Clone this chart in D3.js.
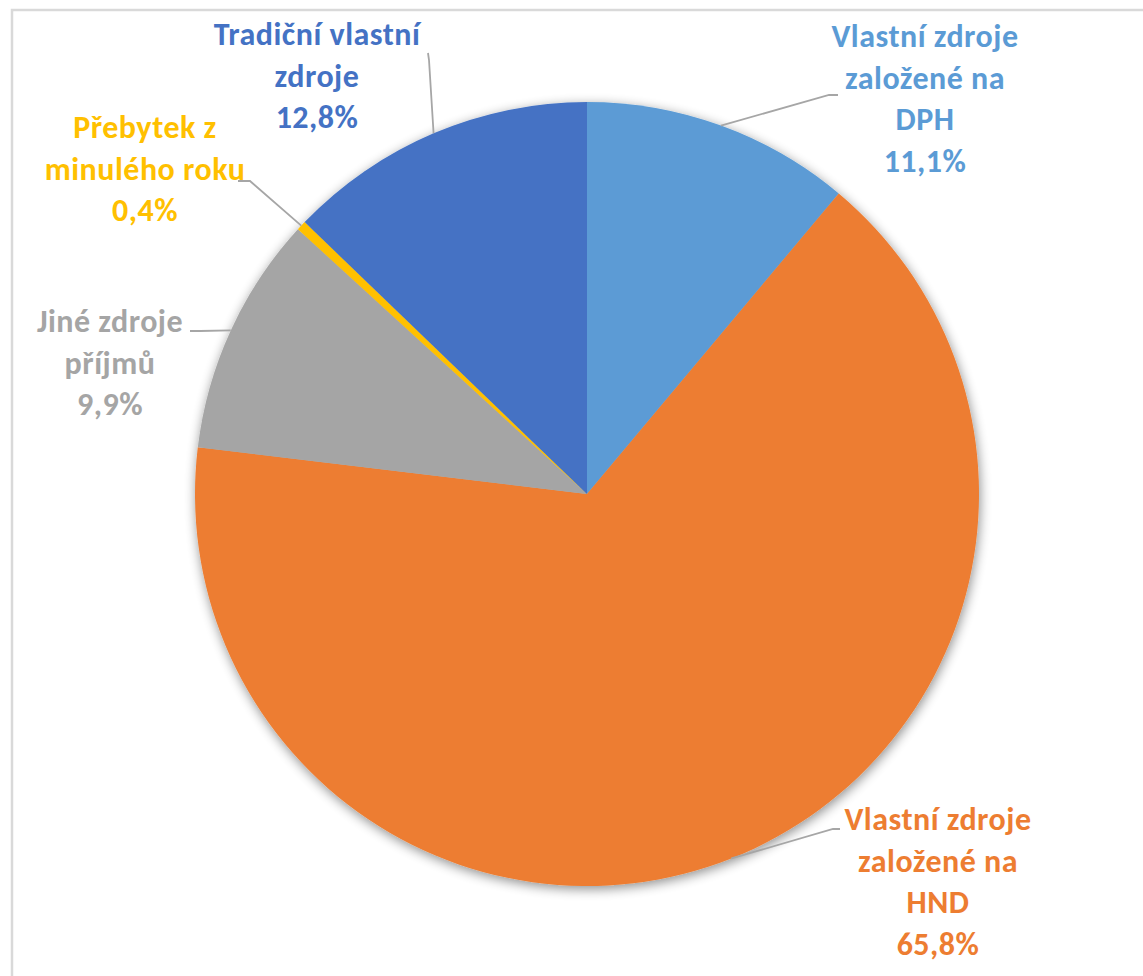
<!doctype html>
<html>
  <head>
    <meta charset="utf-8">
    <script src="https://cdn.jsdelivr.net/npm/d3@7"></script>
    <style>
      body { margin: 0; background: #fff; }
      text { font-family: Calibri, Carlito, Lato, sans-serif; font-weight: bold; }
    </style>
  </head>
  <body>
    <svg id="chart" width="1143" height="976"></svg>
    <script>
      // data
      var categories = ["Vlastní zdroje založené na DPH", "Vlastní zdroje založené na HND",
                        "Jiné zdroje příjmů", "Přebytek z minulého roku", "Tradiční vlastní zdroje"];
      var shares = [11.1, 65.8, 9.9, 0.4, 12.8];
      var colors = ["#5B9BD5", "#ED7D31", "#A5A5A5", "#FFC000", "#4472C4"];
      var labelLines = [
        ["Vlastní zdroje", "založené na", "DPH"],
        ["Vlastní zdroje", "založené na", "HND"],
        ["Jiné zdroje", "příjmů"],
        ["Přebytek z", "minulého roku"],
        ["Tradiční vlastní", "zdroje"]
      ];

      // label placement: centre x, first baseline y, leader line end points (elbow, end)
      var labelPos = [
        {x: 925, y: 47,  elbow: [829, 95],  end: [838, 95]},
        {x: 938, y: 830, elbow: [833, 829], end: [840, 829]},
        {x: 110, y: 332, elbow: [200, 331], end: [190, 331]},
        {x: 145, y: 138, elbow: [250, 181], end: [238, 181]},
        {x: 317, y: 45,  elbow: [429, 60],  end: [428, 53]}
      ];

      var svg = d3.select("#chart"),
        cx = 587, cy = 494, radius = 392, lineH = 41.5;

      var pct = d3.formatLocale({decimal: ",", thousands: " ", grouping: [3], currency: ["", ""]}).format(".1f");

      // frame
      svg.append("rect")
        .attr("x", 12).attr("y", 10)
        .attr("width", 1200).attr("height", 1000)
        .attr("fill", "none")
        .attr("stroke", "#d9d9d9")
        .attr("stroke-width", 2.5);

      // shadow
      var defs = svg.append("defs");
      var f = defs.append("filter").attr("id", "shadow")
        .attr("x", "-10%").attr("y", "-10%").attr("width", "120%").attr("height", "120%");
      f.append("feGaussianBlur").attr("in", "SourceAlpha").attr("stdDeviation", 6);
      f.append("feOffset").attr("dx", 1).attr("dy", 3).attr("result", "off");
      f.append("feComponentTransfer").append("feFuncA").attr("type", "linear").attr("slope", 0.45);
      var m = f.append("feMerge");
      m.append("feMergeNode");
      m.append("feMergeNode").attr("in", "SourceGraphic");

      var data = categories.map(function(c, i) { return {name: c, value: shares[i], i: i}; });

      var pie = d3.pie().sort(null).value(function(d) { return d.value; });
      var arc = d3.arc().innerRadius(0).outerRadius(radius);
      var arcs = pie(data);

      var g = svg.append("g").attr("transform", "translate(" + cx + "," + cy + ")");

      g.append("g").attr("filter", "url(#shadow)")
        .selectAll("path")
        .data(arcs)
        .enter()
        .append("path")
          .attr("d", arc)
          .attr("fill", function(d) { return colors[d.data.i]; });

      // leader lines from the arc midpoint
      svg.append("g")
        .selectAll("polyline")
        .data(arcs)
        .enter()
        .append("polyline")
          .attr("points", function(d) {
            var a = (d.startAngle + d.endAngle) / 2;
            var p0 = [cx + radius * Math.sin(a), cy - radius * Math.cos(a)];
            var lp = labelPos[d.data.i];
            return [p0, lp.elbow, lp.end].map(function(p) { return p.join(","); }).join(" ");
          })
          .attr("fill", "none")
          .attr("stroke", "#a6a6a6")
          .attr("stroke-width", 1.8);

      // labels
      var labels = svg.append("g")
        .selectAll("text")
        .data(arcs)
        .enter()
        .append("text")
          .attr("text-anchor", "middle")
          .attr("font-size", 32)
          .attr("letter-spacing", 0.5)
          .attr("fill", function(d) { return colors[d.data.i]; });

      labels.each(function(d) {
        var t = d3.select(this), lp = labelPos[d.data.i];
        var lines = labelLines[d.data.i].concat([pct(d.data.value) + "%"]);
        lines.forEach(function(l, k) {
          t.append("tspan").attr("x", lp.x).attr("y", lp.y + k * lineH).text(l);
        });
      });
    </script>
  </body>
</html>
